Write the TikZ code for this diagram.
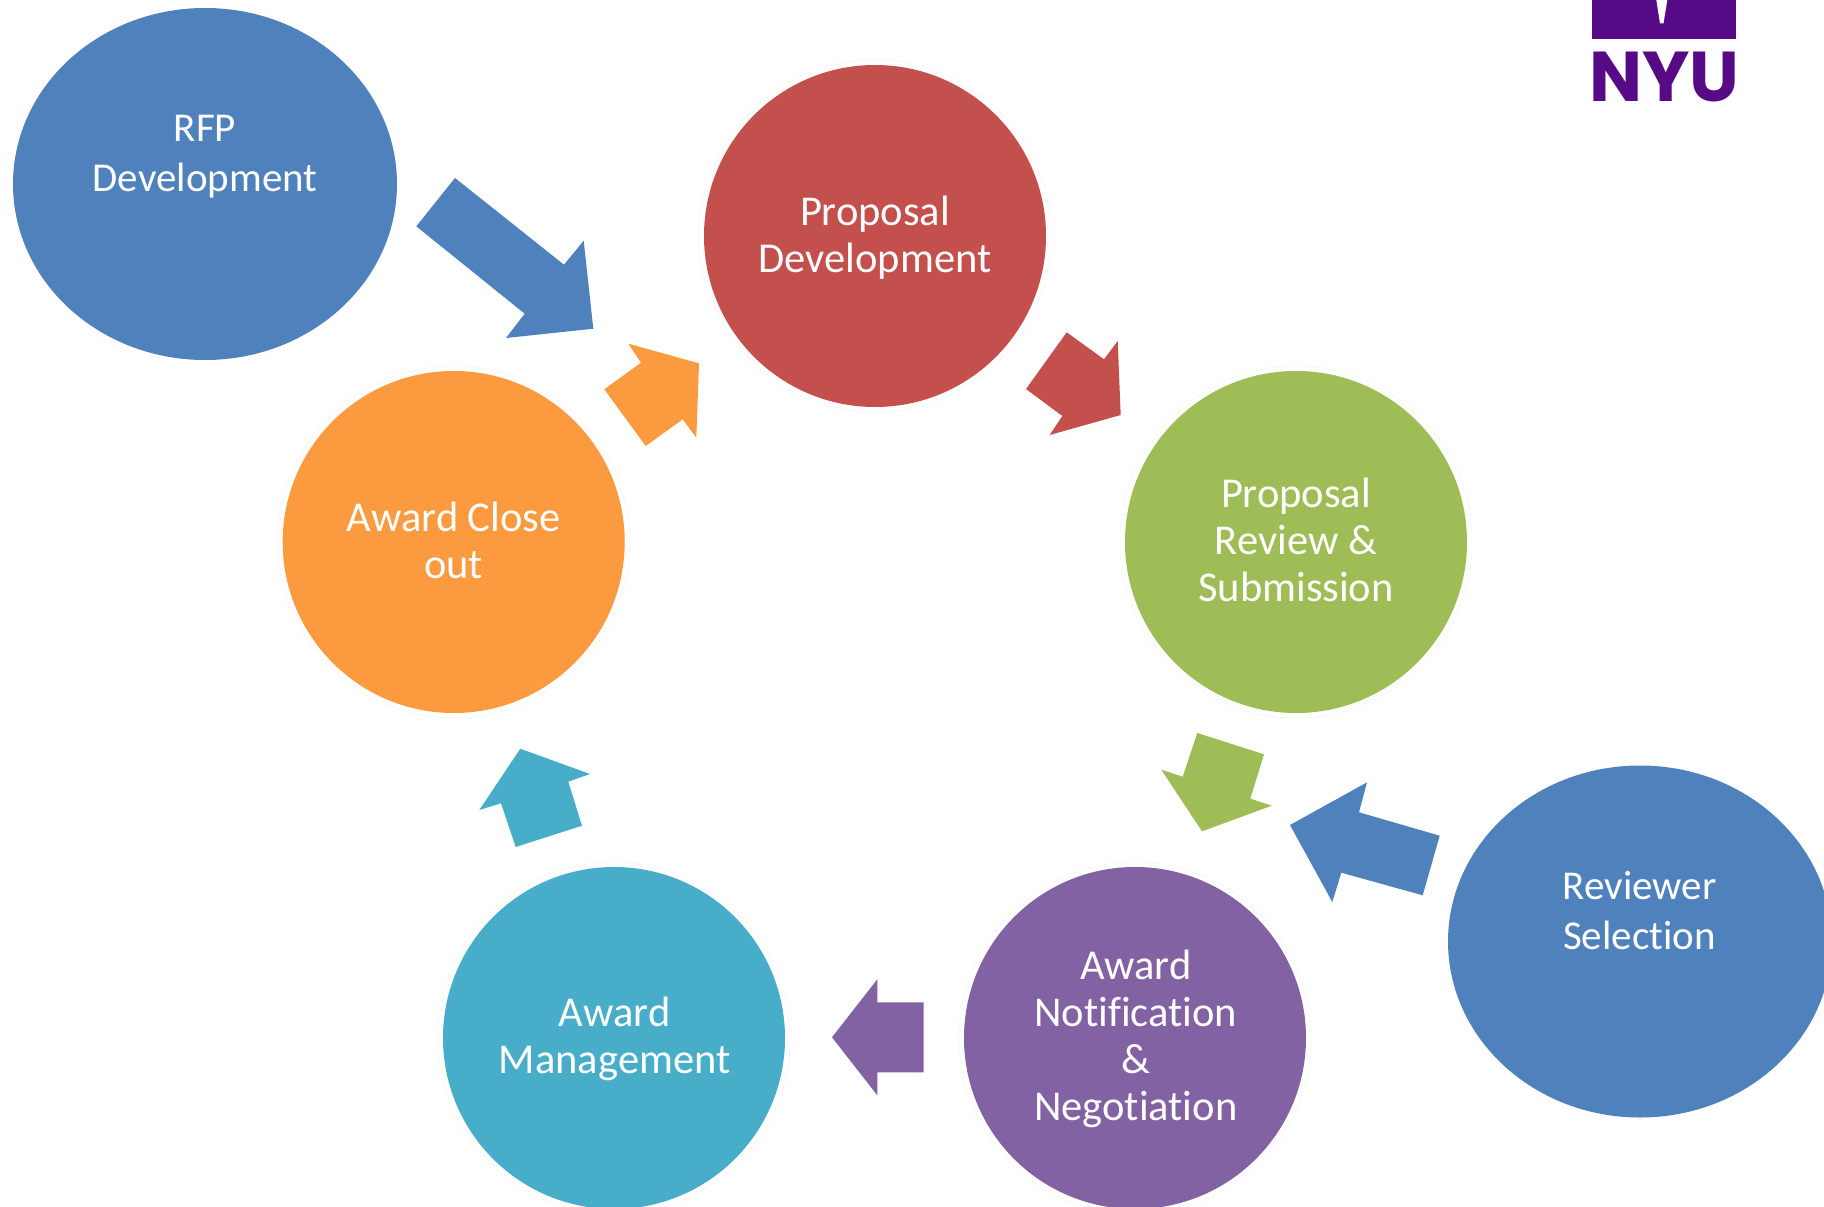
\documentclass[tikz,border=0pt]{standalone}
\usepackage{fontspec}
\setmainfont{Carlito}[Ligatures=NoCommon]
\newfontfamily\logofont{Poppins}[BoldFont={Poppins Bold}]
\usetikzlibrary{shapes.geometric}
\definecolor{cblue}{HTML}{4F81BC}
\definecolor{cred}{HTML}{C3504C}
\definecolor{cgreen}{HTML}{9EBD57}
\definecolor{cpurple}{HTML}{8262A3}
\definecolor{cteal}{HTML}{48ADC9}
\definecolor{corange}{HTML}{FB9A3E}
\definecolor{nyu}{HTML}{570A85}
\tikzset{
  stage/.style={circle,minimum size=342pt,inner sep=0pt},
  stagetext/.style={text=white,align=center,inner sep=0pt,font=\fontsize{42.5}{47}\selectfont},
  source/.style={ellipse,fill=cblue,minimum width=384pt,minimum height=352pt,inner sep=0pt},
  sourcetext/.style={text=white,align=center,inner sep=0pt,font=\fontsize{41}{50.5}\selectfont},
  halo/.style={draw=black!3,line width=0.7pt},
}
\begin{document}
\begin{tikzpicture}[x=1pt,y=-1pt]
\clip[use as bounding box] (0,0) rectangle (1824,1207);
\fill[white] (0,0) rectangle (1824,1207);
% halos
\foreach \p in {(875,236),(1296,542),(1135,1038),(614,1038),(453.7,542)}
  \draw[halo] \p circle (176);
% stages
\node[stage,fill=cred] (pd) at (875,236) {};
\node[stagetext] (pdt) at (875,237.5) {Proposal\\Development};
\node[stage,fill=cgreen] (pr) at (1296,542) {};
\node[stagetext] (prt) at (1296,539.7) {Proposal\\Review \&\\Submission};
\node[stage,fill=cpurple] (an) at (1135,1038) {};
\node[stagetext] (ant) at (1135.7,1039.2) {Award\\Notification\\\&\\Negotiation};
\node[stage,fill=cteal] (am) at (614,1038) {};
\node[stagetext] (amt) at (614.7,1039.3) {Award\\Management};
\node[stage,fill=corange] (ac) at (453.7,542) {};
\node[stagetext] (act) at (453.7,540) {Award Close\\out};
% side ellipses
\node[source] (rfp) at (205,184) {};
\node[sourcetext] (rfpt) at (205,156.7) {RFP\\Development};
\node[source] (rev) at (1640,941.5) {};
\node[sourcetext] (revt) at (1639.5,910.3) {Reviewer\\Selection};
% block arrows
\fill[cblue] (455,178) -- (564,264.7) -- (583.7,240.7) -- (593.3,328.7) -- (506,338) -- (524.7,313.7) -- (416.3,226.3) -- cycle;
\fill[corange] (628.3,343.7) -- (699,363.3) -- (696.3,437.7) -- (682.7,419.3) -- (645.7,446) -- (604.3,389.3) -- (641,362.7) -- cycle;
\fill[cred] (1066.7,332.3) -- (1104,359.3) -- (1117.7,341) -- (1120.7,415) -- (1049.7,435) -- (1062.3,416) -- (1026,389) -- cycle;
\fill[cgreen] (1197.3,733) -- (1264,754.3) -- (1250.3,798.7) -- (1271.7,805.7) -- (1202,831.3) -- (1161.3,769.7) -- (1182.7,776.7) -- cycle;
\fill[cblue] (1367,782.3) -- (1359,812.3) -- (1439.7,835.7) -- (1422.7,895.3) -- (1341.3,872.7) -- (1332.3,902) -- (1290,825) -- cycle;
\fill[cpurple] (877.3,979.3) -- (877.3,1002.3) -- (923.7,1002.3) -- (923.7,1072.3) -- (877.3,1072.3) -- (877.3,1095.3) -- (832,1037.3) -- cycle;
\fill[cteal] (520.3,748.7) -- (590,774) -- (568.3,781.7) -- (582,825.7) -- (515.7,847) -- (501,803.3) -- (479.3,810) -- cycle;
% NYU logo
\fill[nyu] (1592,0) rectangle (1736,39);
\fill[white] (1656.3,0) -- (1667.3,0) -- (1663.5,23.3) -- (1660,23.3) -- cycle;
\node[inner sep=0pt,anchor=north west,text=nyu] (logo) at (1589,52) {\resizebox{150pt}{49.5pt}{\logofont\bfseries NYU}};
\end{tikzpicture}
\end{document}
